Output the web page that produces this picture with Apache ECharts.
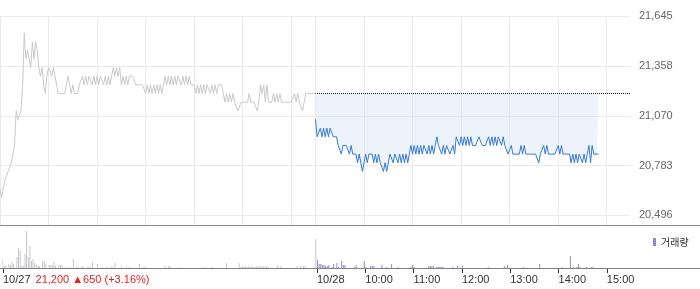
<!DOCTYPE html>
<html><head><meta charset="utf-8">
<script src="https://cdn.jsdelivr.net/npm/echarts@6/dist/echarts.min.js"></script>
<style>html,body{margin:0;padding:0;background:#fff}#c{width:700px;height:289px}</style>
</head><body><div id="c"></div>
<script>
// ---- data ----
const prevClose = 21200;
const summaryText = '21,200 ▲650 (+3.16%)';
const yTickValues = [20496, 20783, 21070, 21358, 21645];
const stepMinutes = 2;           // sampling step of the arrays below
const day2Start = 390;           // minute index where 10/28 09:00 begins
const sessionEnd = 780;          // 10/28 15:30
const gridTicks = [0, 60, 120, 180, 240, 300, 360, 390, 450, 510, 570, 630, 690, 750];
const timeTicks = [0, 390, 450, 510, 570, 630, 690, 750];
const timeLabels = ['10/27', '10/28', '10:00', '11:00', '12:00', '13:00', '14:00', '15:00'];

const day1Price = [
20650,20600,20600,20700,20700,20750,20750,20800,20850,20900,
21100,21050,21050,21100,21250,21550,21400,21450,21400,21350,
21500,21400,21500,21450,21350,21300,21350,21250,21200,21300,
21350,21350,21300,21350,21300,21250,21200,21200,21200,21200,
21200,21250,21300,21300,21200,21250,21200,21200,21200,21250,
21250,21300,21250,21300,21250,21300,21300,21250,21300,21250,
21300,21250,21300,21300,21250,21300,21250,21300,21250,21300,
21350,21300,21350,21300,21350,21250,21300,21250,21300,21250,
21300,21300,21300,21300,21250,21250,21250,21250,21250,21250,
21200,21250,21200,21250,21200,21250,21200,21250,21200,21250,
21200,21250,21300,21250,21300,21250,21300,21250,21300,21250,
21300,21300,21250,21300,21250,21300,21250,21300,21250,21250,
21250,21200,21250,21200,21250,21200,21250,21200,21250,21250,
21200,21250,21200,21250,21200,21250,21250,21250,21200,21150,
21200,21150,21200,21150,21200,21150,21150,21100,21100,21150,
21150,21150,21150,21150,21200,21150,21150,21150,21150,21100,
21150,21250,21200,21250,21150,21250,21150,21150,21150,21200,
21150,21200,21150,21200,21150,21150,21150,21150,21150,21150,
21150,21150,21200,21150,21200,21150,21150,21100,21150,21200,
21200,21200,21200,21200,21200,21200
];

const day2Price = [
21050,20950,20950,21000,20950,21000,20950,21000,20950,21000,
21000,20950,20950,20950,20900,20900,20850,20900,20900,20900,
20900,20850,20900,20850,20850,20850,20800,20850,20800,20750,
20800,20850,20800,20850,20850,20850,20800,20850,20800,20850,
20800,20800,20750,20800,20750,20750,20850,20850,20800,20850,
20850,20800,20850,20800,20850,20800,20850,20800,20850,20900,
20850,20900,20850,20900,20850,20900,20850,20900,20900,20850,
20900,20850,20900,20850,20900,20950,20900,20900,20850,20900,
20850,20900,20900,20850,20850,20900,20850,20950,20950,20900,
20950,20900,20950,20900,20950,20900,20950,20900,20900,20900,
20900,20950,20950,20900,20900,20900,20900,20950,20900,20950,
20900,20950,20900,20950,20950,20900,20950,20900,20900,20850,
20850,20900,20850,20850,20850,20850,20850,20900,20850,20900,
20850,20850,20850,20850,20850,20850,20850,20850,20800,20850,
20850,20900,20850,20900,20850,20850,20850,20850,20850,20850,
20900,20850,20900,20850,20850,20850,20850,20850,20800,20850,
20800,20850,20800,20850,20850,20800,20850,20800,20850,20900,
20800,20900,20850,20850,20850,20850
];

const day1Volume = [
4500,1000,1000,0,2000,1500,3000,2000,0,5500,
10000,8500,1000,1000,7000,18500,5500,11000,3500,4500,
2500,1500,1000,1000,0,3500,3500,2000,0,1500,
1500,1500,3000,1000,0,1500,1500,1500,0,0,
500,0,500,0,4500,0,500,500,0,500,
1000,0,0,500,500,500,3000,0,0,2000,
0,0,500,0,0,500,0,0,1000,0,
2500,0,0,0,1000,0,0,500,0,500,
0,0,0,0,0,2000,0,500,500,500,
0,0,0,0,0,0,0,0,0,0,
0,1000,0,1000,1000,0,0,0,0,0,
0,500,0,0,0,0,0,0,0,0,
0,0,0,0,500,0,500,0,0,0,
500,0,0,0,0,0,0,0,0,2500,
0,0,0,0,0,0,0,2500,500,1000,
500,1000,500,1000,500,1000,500,500,1000,500,
1000,500,1000,500,1000,500,0,0,0,0,
0,1500,0,1000,0,0,0,0,0,0,
0,0,0,1000,0,1000,0,1000,1000,0,
0,0,0,0,0,14500
];

const day2Volume = [
4000,2000,2000,1500,1500,1000,1000,1500,0,500,
2000,0,2500,500,0,3500,1500,1500,0,0,
0,0,0,500,1500,0,0,0,0,3500,
500,0,0,1000,1000,1000,0,0,0,0,
1500,0,0,500,0,0,2000,0,0,0,
500,0,0,0,0,0,0,0,500,1500,
500,0,0,0,0,0,0,0,0,1000,
1000,1000,1000,0,500,500,500,500,500,0,
0,0,0,0,500,0,0,1000,0,0,
1000,0,0,0,0,0,0,0,0,0,
0,0,0,0,0,0,500,0,0,0,
0,0,0,0,0,0,1000,0,1500,0,
0,0,0,0,0,0,0,0,500,0,
0,0,0,0,0,0,0,0,2000,0,
0,0,0,0,0,0,0,0,0,0,
0,0,500,0,0,0,0,6000,0,500,
0,500,2000,500,0,0,0,500,0,0,
500,500,0,0,0,0
];

// ---- chart ----
const yMin = 20496 - (21645 - 20496) * 10 / 199;
const labelFor = {};
timeTicks.forEach((t, i) => { labelFor[t] = timeLabels[i]; });
const toXY = (arr, start) => arr.map((v, i) => [start + i * stepMinutes, v]);

const chart = echarts.init(document.getElementById('c'));
chart.setOption({
  animation: false,
  textStyle: { fontFamily: "'Liberation Sans', 'Noto Sans CJK KR', sans-serif" },
  grid: [
    { left: 0, right: 69, top: 16.43, height: 209 },
    { left: 0, right: 69, top: 226, height: 42 }
  ],
  legend: {
    data: ['거래량'], left: 648, top: 232, icon: 'rect', itemWidth: 3, itemHeight: 8,
    textStyle: { fontSize: 10, color: '#333', fontFamily: 'Noto Sans CJK KR' },
    selectedMode: false
  },
  xAxis: [
    { type: 'value', gridIndex: 0, min: 0, max: sessionEnd,
      axisLine: { show: false }, axisLabel: { show: false },
      axisTick: { show: false, customValues: gridTicks },
      splitLine: { show: true, lineStyle: { color: '#ebebeb', width: 1 } } },
    { type: 'value', gridIndex: 1, min: 0, max: sessionEnd,
      axisLine: { show: false },
      axisTick: { show: true, customValues: timeTicks, length: 5, lineStyle: { color: '#333' } },
      axisLabel: { customValues: timeTicks, align: 'left', margin: 6, fontSize: 11, color: '#333',
        formatter: v => v === 0 ? '{a|' + labelFor[0] + '}{b|' + summaryText + '}' : labelFor[v],
        rich: { a: { fontSize: 11, color: '#333' }, b: { fontSize: 11, color: '#e8221f', padding: [0, 0, 0, 5] } } },
      splitLine: { show: false } }
  ],
  yAxis: [
    { type: 'value', gridIndex: 0, position: 'right', min: yMin, max: 21645,
      axisLine: { show: false },
      axisTick: { show: false, customValues: yTickValues },
      axisLabel: { customValues: yTickValues, color: '#666', fontSize: 11, margin: 8,
        formatter: v => Math.round(v).toLocaleString('en-US') },
      splitLine: { show: true, lineStyle: { color: '#ebebeb', width: 1 } } },
    { type: 'value', gridIndex: 1, min: 0, max: 21000, show: false, splitLine: { show: false } }
  ],
  graphic: [
    { type: 'line', silent: true, z: 100, shape: { x1: 0, y1: 225.5, x2: 700, y2: 225.5 }, style: { stroke: '#8c8c8c', lineWidth: 1 } },
    { type: 'line', silent: true, z: 100, shape: { x1: 0, y1: 268.5, x2: 700, y2: 268.5 }, style: { stroke: '#808080', lineWidth: 1 } }
  ],
  series: [
    { type: 'line', name: 'p1', xAxisIndex: 0, yAxisIndex: 0, data: toXY(day1Price, 0),
      showSymbol: false, symbol: 'none', lineStyle: { color: '#c8c9cc', width: 1 } },
    { type: 'line', name: 'p2', xAxisIndex: 0, yAxisIndex: 0, data: toXY(day2Price, day2Start),
      showSymbol: false, symbol: 'none', lineStyle: { color: '#3579dc', width: 1 },
      areaStyle: { color: 'rgba(213,227,245,0.6)', origin: prevClose },
      markLine: { silent: true, symbol: 'none', label: { show: false },
        lineStyle: { color: '#222', width: 1, type: [1, 1], dashOffset: 0.5 },
        data: [[{ coord: [day2Start, prevClose] }, { coord: [sessionEnd, prevClose] }]] } },
    { type: 'bar', name: 'v1', xAxisIndex: 1, yAxisIndex: 1, barWidth: 1,
      data: day1Volume.map((v, i) => [Math.min(i * stepMinutes, day2Start - 0.7), v]),
      itemStyle: { color: '#c6c7ca' } },
    { type: 'bar', name: '거래량', xAxisIndex: 1, yAxisIndex: 1, barWidth: 1,
      data: toXY(day2Volume, day2Start), itemStyle: { color: '#9486cc' } }
  ]
});
</script></body></html>
